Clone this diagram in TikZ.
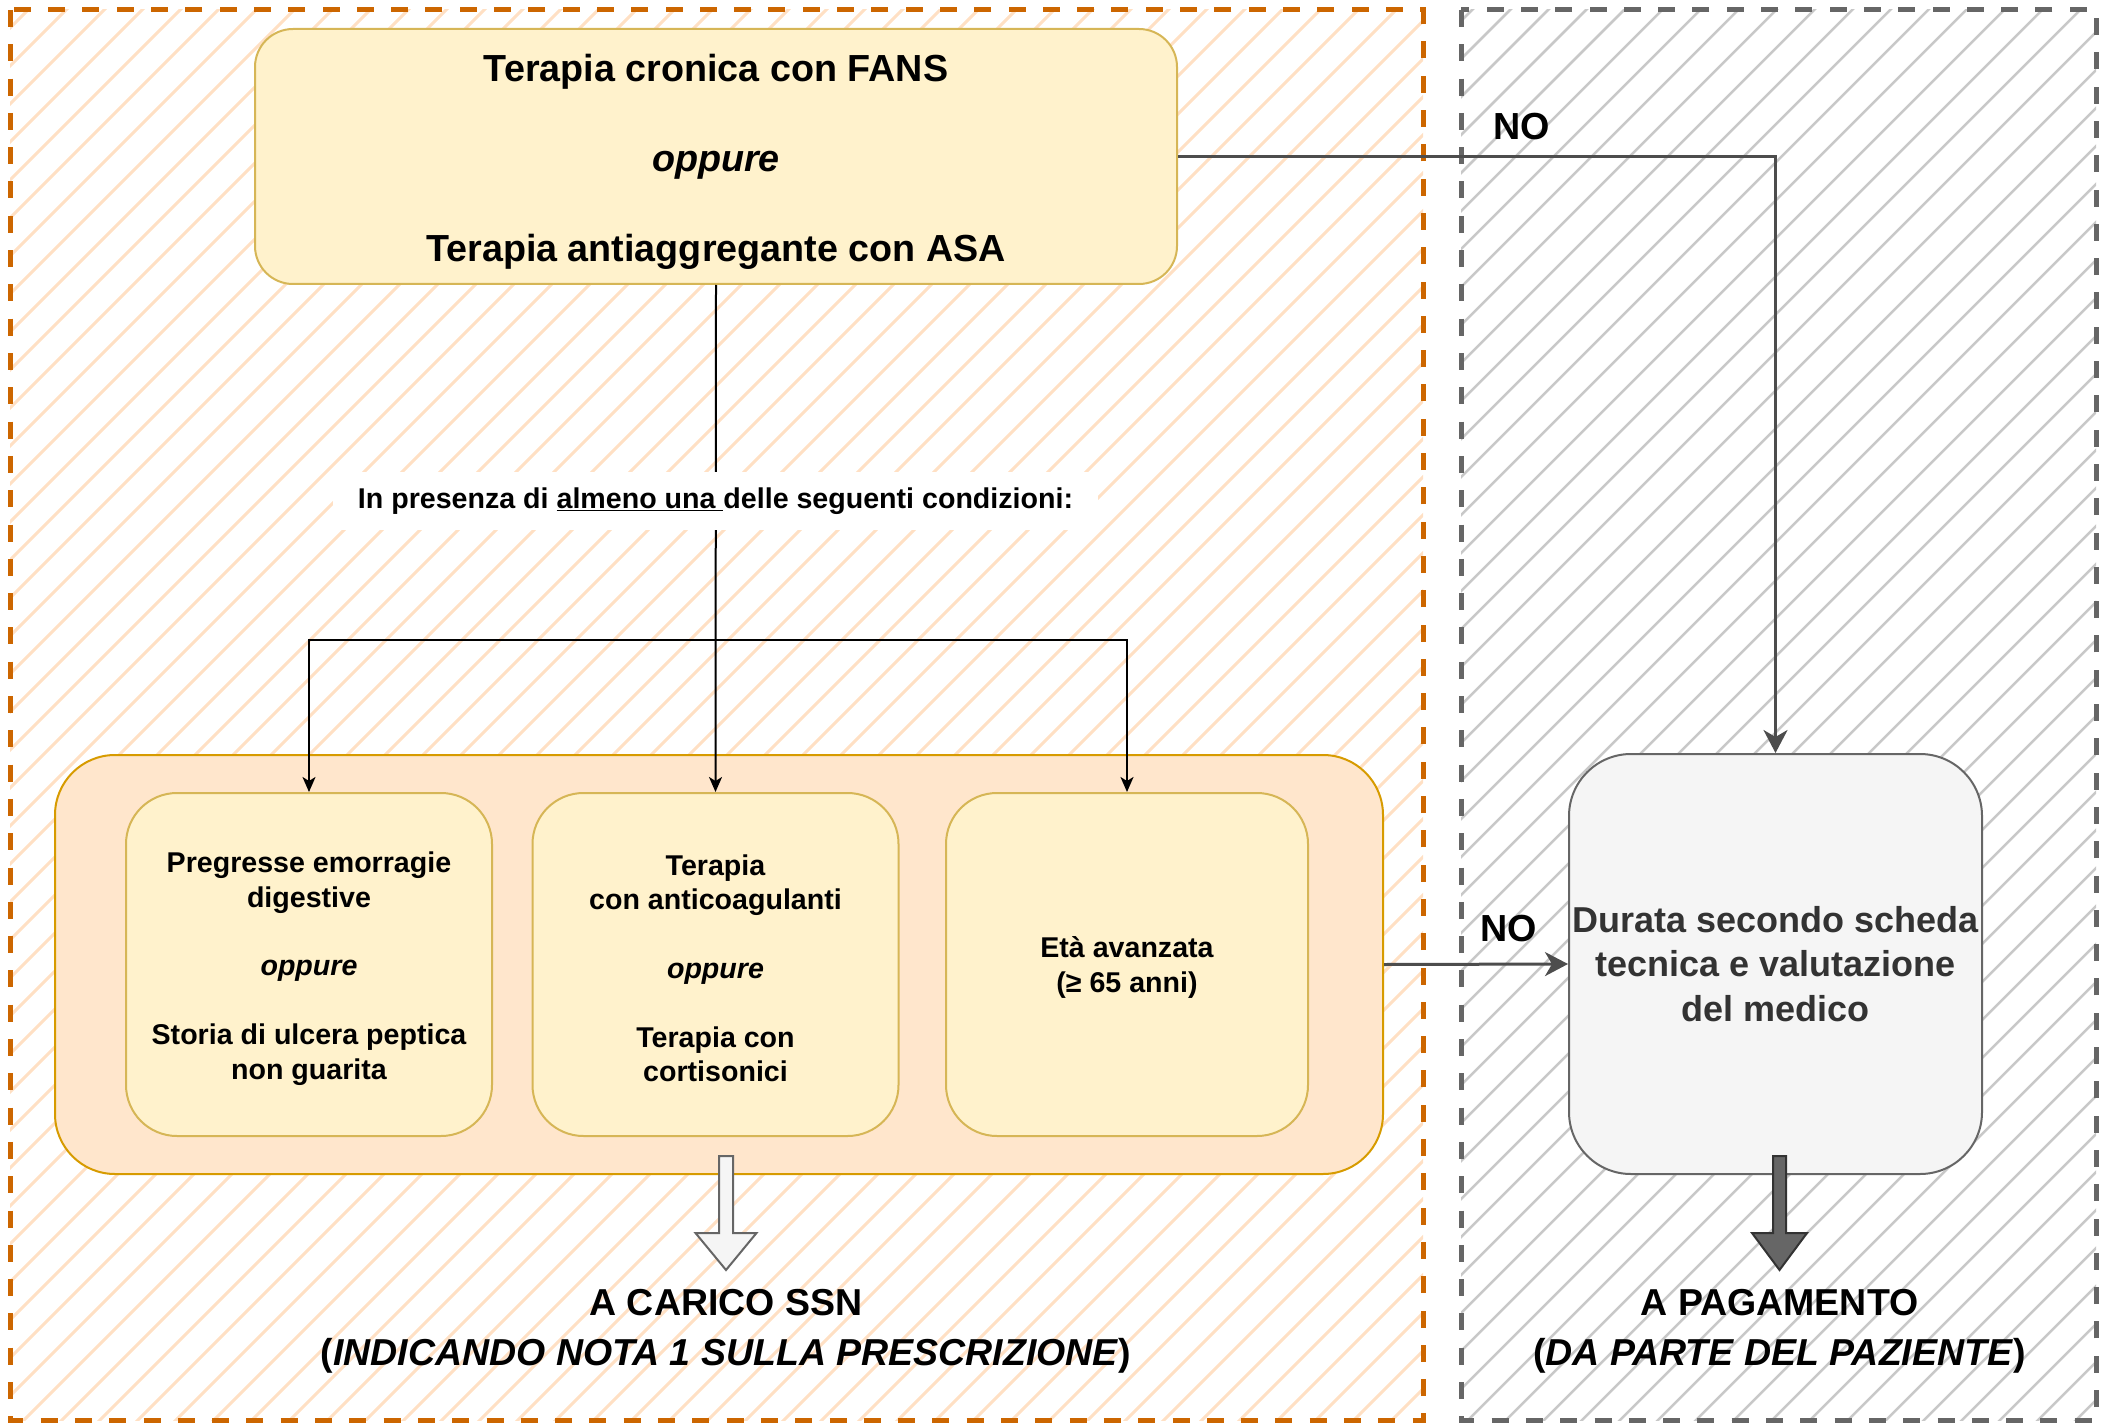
\documentclass[tikz,border=0pt]{standalone}
\usepackage{fontspec}
\setmainfont{Liberation Sans}
\usetikzlibrary{arrows.meta,calc}
\definecolor{hatchorange}{HTML}{FFE0C4}
\definecolor{hatchgray}{HTML}{C8C8C8}
\definecolor{zoneorange}{HTML}{CC6600}
\definecolor{zonegray}{HTML}{666666}
\definecolor{yfill}{HTML}{FFF2CC}
\definecolor{ystroke}{HTML}{D6B656}
\definecolor{ofill}{HTML}{FFE6CC}
\definecolor{ostroke}{HTML}{D79B00}
\definecolor{gfill}{HTML}{F5F5F5}
\definecolor{gstroke}{HTML}{666666}
\definecolor{gtext}{HTML}{333333}
\definecolor{conn}{HTML}{4D4D4D}
\begin{document}
\begin{tikzpicture}[x=1pt,y=-1pt,
  hatchO/.style={draw=hatchorange,line width=3pt},
  hatchG/.style={draw=hatchgray,line width=2.5pt},
  zoneO/.style={draw=zoneorange,line width=5pt,dash pattern=on 17pt off 17.3pt},
  zoneG/.style={draw=zonegray,line width=5pt,dash pattern=on 17pt off 17.3pt},
  ybox/.style={rectangle,rounded corners=51pt,draw=ystroke,fill=yfill,line width=2pt,
    minimum width=366pt,minimum height=343pt,inner sep=0pt},
  ytext/.style={align=center,inner sep=0pt,font=\fontsize{28.6}{34.4}\selectfont\bfseries},
  topbox/.style={rectangle,rounded corners=38pt,draw=ystroke,fill=yfill,line width=2pt,
    minimum width=922pt,minimum height=255pt,inner sep=0pt},
  toptext/.style={align=center,inner sep=0pt,font=\fontsize{37.7}{45}\selectfont\bfseries},
  bigbox/.style={rectangle,rounded corners=60pt,draw=ostroke,fill=ofill,line width=2pt,
    minimum width=1328pt,minimum height=419pt,inner sep=0pt},
  graybox/.style={rectangle,rounded corners=62pt,draw=gstroke,fill=gfill,line width=2pt,
    minimum width=413pt,minimum height=420pt,inner sep=0pt,align=center,text=gtext,
    font=\fontsize{36}{44.2}\selectfont\bfseries},
  blk/.style={draw=black,line width=2pt,-{Stealth[length=15pt,width=13pt,inset=4pt]}},
  grayconn/.style={draw=conn,line width=3pt,-{Stealth[length=23pt,width=24pt,inset=7pt]}},
  nolabel/.style={font=\fontsize{37.7}{45}\selectfont\bfseries,inner sep=0pt},
  result/.style={align=center,inner sep=0pt,font=\fontsize{37.5}{50}\selectfont\bfseries},
  condlabel/.style={fill=white,inner sep=0pt,minimum width=765pt,minimum height=58pt,
    font=\fontsize{28.6}{34.4}\selectfont\bfseries}
]
\useasboundingbox (0,0) rectangle (2101,1423);
% hatching
\begin{scope}
  \clip (10,10) rectangle (1423,1420);
  \foreach \c in {0,38,...,2900} \draw[hatchO] (\c,0) -- (\c-1500,1500);
\end{scope}
\begin{scope}
  \clip (1461,10) rectangle (2096,1420);
  \foreach \c in {1444,1482,...,3560} \draw[hatchG] (\c,0) -- (\c-1500,1500);
\end{scope}
\draw[zoneO] (10,10) rectangle (1423,1420);
\draw[zoneG] (1461,10) rectangle (2096,1420);

% boxes
\node[bigbox] (big) at (719,964.5) {};
\node[ybox] (b1) at (309,964.5) {};
\node[ybox] (b2) at (715.5,964.5) {};
\node[ybox,minimum width=362pt] (b3) at (1127,964.5) {};
\node[ytext] (t1) at (309,968.5) {Pregresse emorragie\\digestive\\[34.4pt]\textit{oppure}\\[34.4pt]Storia di ulcera peptica\\non guarita};
\node[ytext] (t2) at (715.5,968.5) {Terapia\\con anticoagulanti\\[34.4pt]\textit{oppure}\\[34.4pt]Terapia con\\cortisonici};
\node[ytext] (t3) at (1127,967.5) {Età avanzata\\(≥ 65 anni)};
\node[topbox] (top) at (716,156.5) {};
\node[toptext] (ttop) at (716,162) {Terapia cronica con FANS\\[45pt]\textit{oppure}\\[45pt]Terapia antiaggregante con ASA};
\node[graybox] (gb) at (1775.5,964) {Durata secondo scheda\\tecnica e valutazione\\del medico};

% black connectors
\coordinate (br) at (715.5,640);
\draw[blk] (top.south) -- (b2.north);
\draw[blk] (br) -| (b1.north);
\draw[blk] (br) -| (b3.north);
\node[condlabel] (cond) at (715.5,501) {In presenza di \underline{almeno una\ }delle seguenti condizioni:};

% gray connectors
\draw[grayconn] (top.east) -| (gb.north);
\draw[grayconn] (big.east) -- (gb.west);
\node[nolabel] (no1) at (1522,127) {NO};
\node[nolabel] (no2) at (1509,929) {NO};

% block arrows
\coordinate (wa) at (726,1156);
\draw[draw=gstroke,fill=gfill,line width=2pt,line join=miter]
  (wa) ++(-7,0) -- ++(0,77) -- ++(-23.5,0) -- ++(30.5,37) -- ++(30.5,-37) -- ++(-23.5,0) -- ++(0,-77) -- cycle;
\coordinate (da) at (1779.5,1156);
\draw[draw=gtext,fill=gstroke,line width=2pt,line join=miter]
  (da) ++(-6.5,0) -- ++(0,77) -- ++(-21,0) -- ++(27.5,37) -- ++(27.5,-37) -- ++(-21,0) -- ++(0,-77) -- cycle;

% results
\node[result] (ssn) at (726,1331) {A CARICO SSN\\(\textit{INDICANDO NOTA 1 SULLA PRESCRIZIONE})};
\node[result] (pag) at (1779.5,1331) {A PAGAMENTO\\(\textit{DA PARTE DEL PAZIENTE})};
\end{tikzpicture}
\end{document}
